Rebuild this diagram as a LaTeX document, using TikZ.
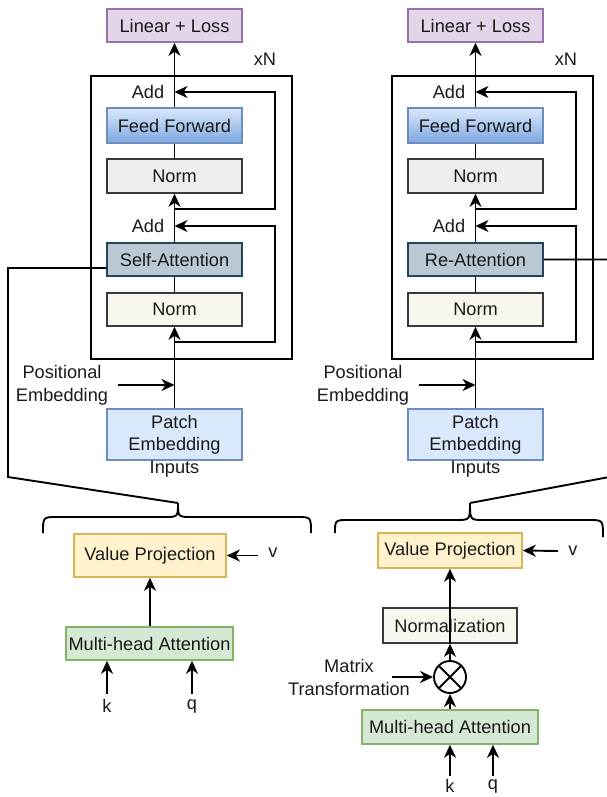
\documentclass[tikz,border=0pt]{standalone}
\usepackage{fontspec}
\setmainfont{Liberation Sans}
\usetikzlibrary{arrows.meta}

\definecolor{lossFill}{HTML}{E1D5E7}
\definecolor{lossLine}{HTML}{9673A6}
\definecolor{ffTop}{HTML}{DAE8FC}
\definecolor{ffBot}{HTML}{7EA6E0}
\definecolor{blueLine}{HTML}{6C8EBF}
\definecolor{normA}{HTML}{EEEEEE}
\definecolor{normB}{HTML}{F9F7ED}
\definecolor{normLine}{HTML}{36393D}
\definecolor{attFill}{HTML}{BAC8D3}
\definecolor{attLine}{HTML}{23445D}
\definecolor{patchFill}{HTML}{DAE8FC}
\definecolor{vpFill}{HTML}{FFF2CC}
\definecolor{vpLine}{HTML}{D6B656}
\definecolor{mhaFill}{HTML}{D5E8D4}
\definecolor{mhaLine}{HTML}{82B366}
\definecolor{ink}{HTML}{1A1A1A}

\begin{document}
\begin{tikzpicture}[x=1pt,y=-1pt,
  every node/.style={font=\fontsize{18.2}{23}\selectfont, text=ink},
  blk/.style={draw, line width=1.6pt, minimum width=135pt, inner sep=0pt},
  frame/.style={draw, line width=1.9pt, minimum width=201pt, minimum height=283pt, inner sep=0pt},
  link/.style={line width=1.9pt},
  arr/.style={line width=1.9pt, -{Stealth[length=13pt,width=12pt,inset=4pt]}},
  multi/.style={align=center, font=\fontsize{18.2}{23}\selectfont},
]
\useasboundingbox (0,0) rectangle (607,797);
\clip (0,0) rectangle (607,797);

% ---------------- left encoder stack ----------------
\node[blk, fill=lossFill, draw=lossLine, minimum height=33pt] (lossL) at (174.5,25.5) {Linear + Loss};
\node[blk, top color=ffTop, bottom color=ffBot, draw=blueLine, minimum height=35pt] (ffL) at (174.5,125.5) {Feed Forward};
\node[blk, fill=normA, draw=normLine, minimum height=34pt] (nAL) at (174.5,176) {Norm};
\node[blk, fill=attFill, draw=attLine, minimum height=33pt] (attL) at (174.5,259.5) {Self-Attention};
\node[blk, fill=normB, draw=normLine, minimum height=33pt] (nBL) at (174.5,309.5) {Norm};
\node[blk, fill=patchFill, draw=blueLine, minimum height=51pt] (patchL) at (174.5,434.5) {};
\node[multi, font=\fontsize{18.2}{22.5}\selectfont] (patchTxtL) at (174.5,446) {Patch\\Embedding\\Inputs};
\node[frame] (frameL) at (191.5,217.5) {};
\node (xnL) at (265,59) {xN};
\node (addAL) at (148,92) {Add};
\node (addBL) at (148,226) {Add};
\node[multi] (posL) at (62,385) {Positional\\Embedding};

\draw[arr] (ffL.north) -- (lossL.south);
\draw[link] (nAL.north) -- (ffL.south);
\draw[arr] (attL.north) -- (nAL.south);
\draw[link] (nBL.north) -- (attL.south);
\draw[arr] (patchL.north) -- (nBL.south);

\coordinate (resAL) at (174.5,209);
\coordinate (sumAL) at (174.5,92);
\coordinate (resBL) at (174.5,342);
\coordinate (sumBL) at (174.5,226);
\draw[arr] (resAL) -- ++(100.5,0) |- (sumAL);
\draw[arr] (resBL) -- ++(100.5,0) |- (sumBL);

\coordinate (posSrcL) at (118,385);
\draw[arr] (posSrcL) -- (posSrcL -| patchL.north);

% brace and link to the attention block
\coordinate (tipL) at (178,503);
\draw[link] (43,533) .. controls (43,517) .. (57,517) -- (164,517)
  .. controls (178,517) .. (tipL) .. controls (178,517) .. (192,517)
  -- (297,517) .. controls (311,517) .. (311,533);
\draw[link] ([yshift=-8.5pt]attL.west) -| (8,477) -- (tipL);

% ---------------- left attention detail ----------------
\node[blk, fill=vpFill, draw=vpLine, minimum width=152pt, minimum height=43pt] (vpL) at (150,555.5) {Value Projection};
\node[blk, fill=mhaFill, draw=mhaLine, minimum width=167pt, minimum height=33pt] (mhaL) at (149.5,643.5) {Multi-head Attention};
\draw[arr] (mhaL.north -| vpL.south) -- (vpL.south);
\node (vL) at (273,553) {v};
\coordinate (vSrcL) at (258,555.5);
\draw[arr] (vSrcL) -- (vpL.east);
\node (kL) at (107,706) {k};
\node (qL) at (192,706) {q};
\coordinate (kSrcL) at (107,694);
\coordinate (qSrcL) at (192,694);
\draw[arr] (kSrcL) -- (kSrcL |- mhaL.south);
\draw[arr] (qSrcL) -- (qSrcL |- mhaL.south);

% ---------------- right encoder stack ----------------
\node[blk, fill=lossFill, draw=lossLine, minimum height=33pt] (lossR) at (475.5,25.5) {Linear + Loss};
\node[blk, top color=ffTop, bottom color=ffBot, draw=blueLine, minimum height=35pt] (ffR) at (475.5,125.5) {Feed Forward};
\node[blk, fill=normA, draw=normLine, minimum height=34pt] (nAR) at (475.5,176) {Norm};
\node[blk, fill=attFill, draw=attLine, minimum height=33pt] (attR) at (475.5,259.5) {Re-Attention};
\node[blk, fill=normB, draw=normLine, minimum height=33pt] (nBR) at (475.5,309.5) {Norm};
\node[blk, fill=patchFill, draw=blueLine, minimum height=51pt] (patchR) at (475.5,434.5) {};
\node[multi, font=\fontsize{18.2}{22.5}\selectfont] (patchTxtR) at (475.5,446) {Patch\\Embedding\\Inputs};
\node[frame] (frameR) at (492.5,217.5) {};
\node (xnR) at (566,59) {xN};
\node (addAR) at (449,92) {Add};
\node (addBR) at (449,226) {Add};
\node[multi] (posR) at (363,385) {Positional\\Embedding};

\draw[arr] (ffR.north) -- (lossR.south);
\draw[link] (nAR.north) -- (ffR.south);
\draw[arr] (attR.north) -- (nAR.south);
\draw[link] (nBR.north) -- (attR.south);
\draw[arr] (patchR.north) -- (nBR.south);

\coordinate (resAR) at (475.5,209);
\coordinate (sumAR) at (475.5,92);
\coordinate (resBR) at (475.5,342);
\coordinate (sumBR) at (475.5,226);
\draw[arr] (resAR) -- ++(100.5,0) |- (sumAR);
\draw[arr] (resBR) -- ++(100.5,0) |- (sumBR);

\coordinate (posSrcR) at (419,385);
\draw[arr] (posSrcR) -- (posSrcR -| patchR.north);

% brace and link to the attention block
\coordinate (tipR) at (470,503);
\draw[link] (335,533) .. controls (335,520) .. (349,520) -- (456,520)
  .. controls (470,520) .. (tipR) .. controls (470,520) .. (484,520)
  -- (589,520) .. controls (603,520) .. (603,537);
\draw[link] (attR.east) -- (620,259.5) -- (620,475) -- (tipR);

% ---------------- right attention detail ----------------
\node[blk, fill=vpFill, draw=vpLine, minimum width=144pt, minimum height=35pt] (vpR) at (450,550.5) {Value Projection};
\node[blk, fill=normB, draw=normLine, minimum width=134pt, minimum height=35pt] (nCR) at (450,625.5) {Normalization};
\node[circle, draw, line width=1.9pt, fill=white, minimum size=32pt, inner sep=0pt,
  path picture={\draw[line width=1.9pt] (path picture bounding box.south west) -- (path picture bounding box.north east)
    (path picture bounding box.north west) -- (path picture bounding box.south east);}] (mx) at (450,677) {};
\node[blk, fill=mhaFill, draw=mhaLine, minimum width=176pt, minimum height=34pt] (mhaR) at (450,727) {Multi-head Attention};
\node[multi] (mtxR) at (349,677) {Matrix\\Transformation};

\draw[arr] (mhaR.north) -- (mx.south);
\draw[arr] (mx.north) -- (nCR.south);
\draw[link] (nCR.south) -- (nCR.north);
\draw[arr] (nCR.north) -- (vpR.south);
\coordinate (mtxSrcR) at (392,677);
\draw[arr] (mtxSrcR) -- (mx.west);

\node (vR) at (573,551) {v};
\coordinate (vSrcR) at (558,551);
\draw[arr] (vSrcR) -- (vpR.east);
\node (kR) at (450,786) {k};
\node (qR) at (493,786) {q};
\coordinate (kSrcR) at (450,776);
\coordinate (qSrcR) at (493,776);
\draw[arr] (kSrcR) -- (kSrcR |- mhaR.south);
\draw[arr] (qSrcR) -- (qSrcR |- mhaR.south);
\end{tikzpicture}
\end{document}
